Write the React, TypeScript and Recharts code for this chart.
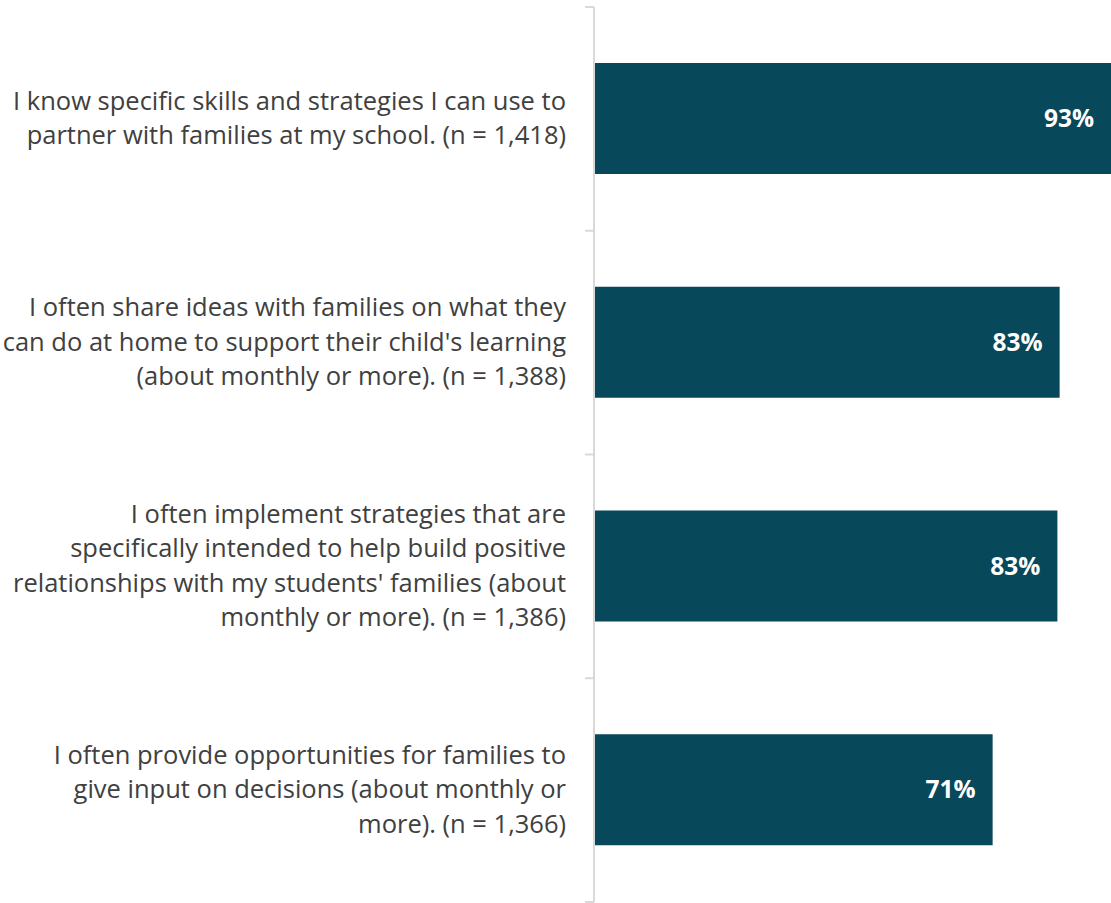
import React from 'react';
import { BarChart, Bar, XAxis, YAxis, LabelList } from 'recharts';

const labelLines: string[][] = [
  ['I know specific skills and strategies I can use to', 'partner with families at my school. (n = 1,418)'],
  ['I often share ideas with families on what they', "can do at home to support their child's learning", '(about monthly or more). (n = 1,388)'],
  ['I often implement strategies that are', 'specifically intended to help build positive', "relationships with my students' families (about", 'monthly or more). (n = 1,386)'],
  ['I often provide opportunities for families to', 'give input on decisions (about monthly or', 'more). (n = 1,366)'],
];
const items = ['skills', 'ideas', 'relationships', 'input'];
const percents = [92.6, 83.4, 83.0, 71.4];

const data = items.map((name, i) => ({ name, value: percents[i] }));

const W = 1111;
const H = 903;
const margin = { top: 7, right: 0, bottom: 1, left: 0 };
const band = (H - margin.top - margin.bottom) / items.length;
const AXIS_COLOR = '#d9d9d9';
const TEXT = '#404040';
const FONT = '"Open Sans", sans-serif';

const CategoryTick = (props: any) => {
  const { y, index } = props;
  const ax = 594;
  const lines = labelLines[index] || [];
  const lh = 34.5;
  const startY = y - 2 - ((lines.length - 1) * lh) / 2;
  return (
    <g>
      <line x1={ax - 9} x2={ax} y1={y - band / 2} y2={y - band / 2} stroke={AXIS_COLOR} strokeWidth={2} />
      {index === items.length - 1 && (
        <line x1={ax - 9} x2={ax} y1={y + band / 2} y2={y + band / 2} stroke={AXIS_COLOR} strokeWidth={2} />
      )}
      <text textAnchor="end" fill={TEXT} fontSize={25.5} fontFamily={FONT}>
        {lines.map((l, i) => (
          <tspan key={i} x={566} y={startY + i * lh} dominantBaseline="central">
            {l}
          </tspan>
        ))}
      </text>
    </g>
  );
};

export default function App() {
  return (
    <div style={{ position: 'absolute', left: 0, top: 0, width: W, height: H, background: '#fff' }}>
      <BarChart width={W} height={H} data={data} layout="vertical" margin={margin}>
        <XAxis type="number" hide domain={[0, 92.6]} />
        <YAxis
          type="category"
          dataKey="name"
          width={594}
          tickLine={false}
          tickSize={0}
          axisLine={{ stroke: AXIS_COLOR, strokeWidth: 2 }}
          tick={<CategoryTick />}
          interval={0}
        />
        <Bar dataKey="value" fill="#07485a" barSize={111} isAnimationActive={false}>
          <LabelList
            dataKey="value"
            position="insideRight"
            offset={17}
            formatter={(v: any) => `${Math.round(Number(v))}%`}
            fill="#ffffff"
            fontSize={24.5}
            fontWeight={700}
            fontFamily={FONT}
          />
        </Bar>
      </BarChart>
    </div>
  );
}
